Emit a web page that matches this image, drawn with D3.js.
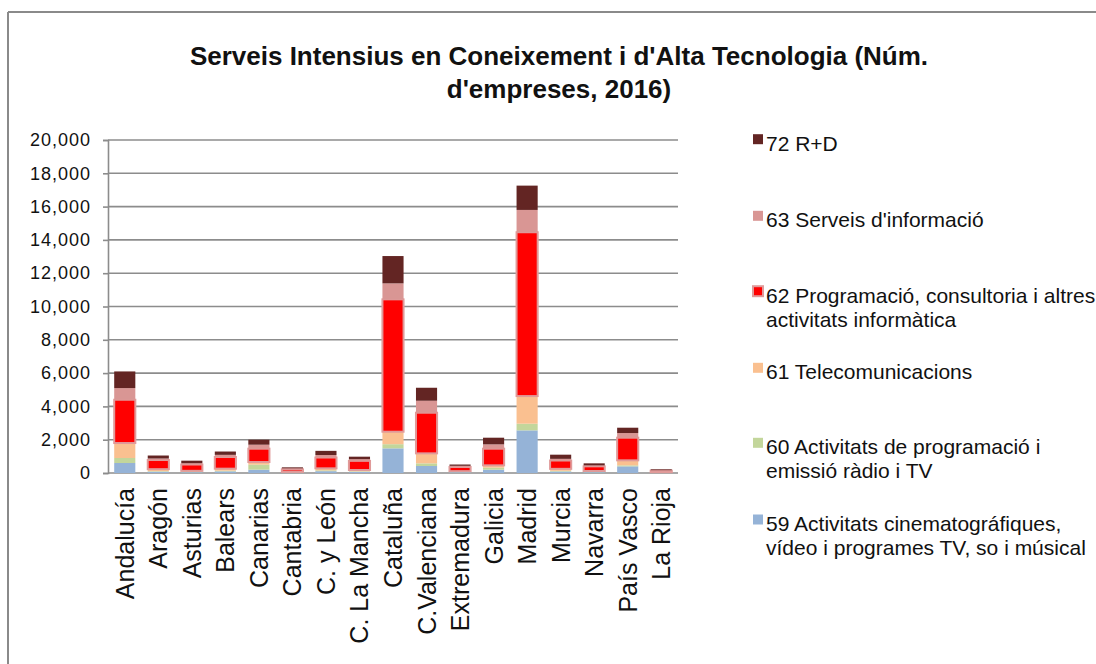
<!DOCTYPE html>
<html lang="en">
<head>
    <meta charset="UTF-8">
    <title>Serveis Intensius en Coneixement</title>
    <script src="https://d3js.org/d3.v7.min.js"></script>
    <style>
        body { margin: 0; background: #fff; }
        svg { display: block; }
        text { font-family: "Liberation Sans", Arial, sans-serif; fill: #111; }
        .title { font-size: 26px; font-weight: bold; }
        .tick-label { font-size: 18px; letter-spacing: 1px; }
        .cat-label { font-size: 25px; }
        .legend text { font-size: 21px; }
    </style>
</head>
<body>
<script>
    const regions = ["Andalucía", "Aragón", "Asturias", "Balears", "Canarias", "Cantabria",
                     "C. y León", "C. La Mancha", "Cataluña", "C.Valenciana", "Extremadura",
                     "Galicia", "Madrid", "Murcia", "Navarra", "País Vasco", "La Rioja"];

    // one array per sector, in stacking order (bottom first)
    const s59 = [600, 80, 50, 100, 200, 40, 110, 70, 1480, 420, 50, 200, 2560, 90, 50, 400, 20];
    const s60 = [300, 30, 20, 40, 300, 10, 50, 30, 250, 160, 20, 120, 400, 40, 20, 60, 10];
    const s61 = [900, 120, 60, 120, 160, 20, 120, 80, 750, 600, 40, 140, 1660, 120, 50, 300, 20];
    const s62 = [2600, 550, 380, 700, 800, 150, 650, 550, 7950, 2440, 250, 1000, 9840, 500, 280, 1360, 90];
    const s63 = [700, 90, 80, 130, 240, 60, 150, 100, 960, 720, 70, 260, 1340, 100, 60, 280, 30];
    const s72 = [1000, 180, 150, 200, 300, 60, 250, 150, 1640, 780, 80, 400, 1460, 250, 120, 320, 50];

    const seriesKeys = ["s59", "s60", "s61", "s62", "s63", "s72"];
    const seriesNames = {
        s59: ["59 Activitats cinematográfiques,", "vídeo i programes TV, so i músical"],
        s60: ["60 Activitats de programació i", "emissió ràdio i TV"],
        s61: ["61 Telecomunicacions"],
        s62: ["62 Programació, consultoria i altres", "activitats informàtica"],
        s63: ["63 Serveis d'informació"],
        s72: ["72 R+D"]
    };
    const yTicks = [0, 2000, 4000, 6000, 8000, 10000, 12000, 14000, 16000, 18000, 20000];

    const colors = {
        s59: "#95b3d7", s60: "#c3d69b", s61: "#fac090",
        s62: "#ff0000", s63: "#d99694", s72: "#632523"
    };

    const table = regions.map((r, i) => ({
        region: r, s59: s59[i], s60: s60[i], s61: s61[i],
        s62: s62[i], s63: s63[i], s72: s72[i]
    }));

    const width = 1096, height = 664;
    const plotLeft = 108, plotRight = 678, plotTop = 140, plotBottom = 473;

    const svg = d3.select("body").append("svg")
        .attr("width", width)
        .attr("height", height);

    // outer frame (only top and left visible)
    svg.append("line").attr("x1", 8).attr("x2", width).attr("y1", 12).attr("y2", 12)
        .attr("stroke", "#8a8a8a").attr("stroke-width", 2);
    svg.append("line").attr("x1", 8).attr("x2", 8).attr("y1", 12).attr("y2", height)
        .attr("stroke", "#8a8a8a").attr("stroke-width", 2);

    // title
    const title = svg.append("text").attr("class", "title").attr("text-anchor", "middle");
    title.append("tspan").attr("x", 559).attr("y", 65)
        .text("Serveis Intensius en Coneixement i d'Alta Tecnologia (Núm.");
    title.append("tspan").attr("x", 559).attr("y", 98)
        .text("d'empreses, 2016)");

    const x = d3.scaleBand()
        .domain(regions)
        .range([plotLeft, plotRight])
        .paddingInner(0.37)
        .paddingOuter(0.185);

    const y = d3.scaleLinear()
        .domain([0, 20000])
        .range([plotBottom, plotTop]);

    // gridlines
    svg.append("g")
        .selectAll("line")
        .data(yTicks)
        .join("line")
        .attr("x1", plotLeft).attr("x2", plotRight)
        .attr("y1", d => y(d)).attr("y2", d => y(d))
        .attr("stroke", "#8c8c8c")
        .attr("stroke-width", 1.6);

    // y axis
    const yAxis = svg.append("g")
        .attr("transform", `translate(${plotLeft},0)`)
        .call(d3.axisLeft(y).tickValues(yTicks).tickFormat(d3.format(",")).tickSize(5).tickPadding(12));
    yAxis.attr("font-family", null).attr("font-size", null);
    yAxis.select(".domain").attr("stroke", "#8c8c8c").attr("stroke-width", 1.6);
    yAxis.selectAll(".tick line").attr("stroke", "#8c8c8c").attr("stroke-width", 1.6);
    yAxis.selectAll(".tick text").attr("class", "tick-label").attr("fill", "#111");

    // stacked bars
    const stacked = d3.stack().keys(seriesKeys)(table);

    const layers = svg.append("g")
        .selectAll("g")
        .data(stacked)
        .join("g")
        .attr("fill", d => colors[d.key]);

    layers.selectAll("rect")
        .data(d => d.map(v => Object.assign(v, { key: d.key })))
        .join("rect")
        .attr("x", d => x(d.data.region))
        .attr("width", x.bandwidth())
        .attr("y", d => y(d[1]))
        .attr("height", d => y(d[0]) - y(d[1]))
        .attr("stroke", d => d.key === "s62" ? "#e09a99" : "none")
        .attr("stroke-width", 2);

    // category labels
    const xAxis = svg.append("g")
        .attr("transform", `translate(0,${plotBottom})`)
        .call(d3.axisBottom(x).tickSize(0).tickPadding(0));
    xAxis.attr("font-family", null).attr("font-size", null);
    xAxis.select(".domain").remove();
    xAxis.selectAll(".tick text")
        .attr("class", "cat-label")
        .attr("fill", "#111")
        .attr("transform", "rotate(-90)")
        .attr("text-anchor", "end")
        .attr("x", -15)
        .attr("y", 0)
        .attr("dy", "0.36em");

    // legend
    const legendBase = { s72: 150.7, s63: 227.3, s62: 302.7, s61: 379.3, s60: 454.3, s59: 531 };
    const legend = svg.append("g").attr("class", "legend");
    seriesKeys.slice().reverse().forEach(k => {
        const g = legend.append("g");
        const base = legendBase[k];
        g.append("rect")
            .attr("x", 753).attr("y", base - 16.5)
            .attr("width", 10).attr("height", 10)
            .attr("fill", colors[k])
            .attr("stroke", k === "s62" ? "#e09a99" : "none")
            .attr("stroke-width", 2);
        const t = g.append("text");
        seriesNames[k].forEach((line, i) => {
            t.append("tspan").attr("x", 766).attr("y", base + i * 24).text(line);
        });
    });
</script>
</body>
</html>
